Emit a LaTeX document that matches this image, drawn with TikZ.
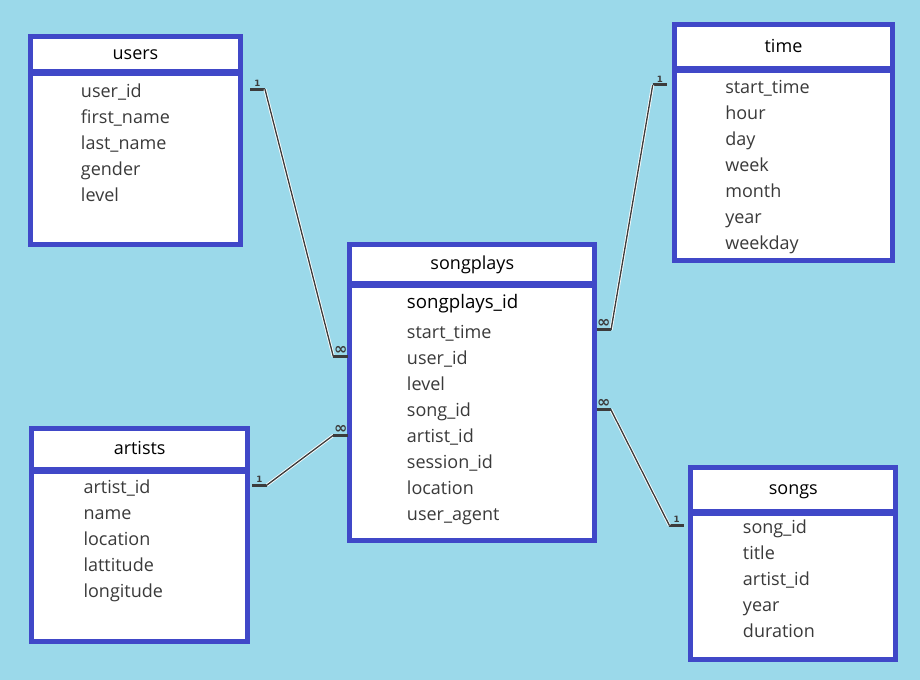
\documentclass[tikz,border=0pt]{standalone}
\usepackage{fontspec}
\setmainfont{Open Sans}
\newfontfamily\cardfont{DejaVu Sans}
\usepackage{xcolor}
\usetikzlibrary{positioning}

\definecolor{bgblue}{RGB}{155,217,234}
\definecolor{tabblue}{RGB}{64,72,200}
\definecolor{fieldgrey}{RGB}{58,58,58}
\definecolor{linegrey}{RGB}{60,60,60}

\begin{document}
\begin{tikzpicture}[x=0.75pt, y=-0.75pt, node distance=1.5pt]
        % Stijlen voor tabellen, velden en relaties
        \tikzstyle{tabhead} = [rectangle, draw=tabblue, line width=3.75pt, fill=white, outer sep=0pt, inner sep=0pt, text height=1.5ex, text depth=0pt, font=\fontsize{13.5}{16}\selectfont]
        \tikzstyle{tabbody} = [rectangle, draw=tabblue, line width=3.75pt, fill=white, outer sep=0pt, inner sep=0pt]
        \tikzstyle{field} = [anchor=base west, inner sep=0pt, text=fieldgrey, font=\fontsize{13.5}{16}\selectfont]
        \tikzstyle{bar} = [draw=linegrey, line width=2.25pt]
        \tikzstyle{rel} = [draw=linegrey, line width=1pt, preaction={draw=white, line width=2.3pt}]
        \tikzstyle{card} = [inner sep=0.8pt, text=linegrey, font=\cardfont\bfseries\fontsize{6.5}{7}\selectfont]
        \tikzstyle{many} = [inner sep=0pt, yshift=0.5pt, text=linegrey, font=\cardfont\bfseries\fontsize{12}{12}\selectfont]

        % Achtergrond
        \fill[bgblue] (0,0) rectangle (920,680);
        \useasboundingbox (0,0) rectangle (920,680);

        % Tabellen plaatsen
        \node (users) [tabhead, minimum width=210*0.75pt, minimum height=35.5*0.75pt] at (135.5,54.25) {users};
        \node (usersbody) [tabbody, below=of users, minimum width=210*0.75pt, minimum height=170.5*0.75pt] {};

        \node (time) [tabhead, minimum width=218*0.75pt, minimum height=44*0.75pt] at (783.5,47) {time};
        \node (timebody) [tabbody, below=of time, minimum width=218*0.75pt, minimum height=189.5*0.75pt] {};

        \node (songplays) [tabhead, minimum width=245*0.75pt, minimum height=39.5*0.75pt] at (472.3,264) {songplays};
        \node (songplaysbody) [tabbody, below=of songplays, minimum width=245*0.75pt, minimum height=255.1*0.75pt] {};

        \node (artists) [tabhead, minimum width=215.7*0.75pt, minimum height=40.5*0.75pt] at (139.65,448.75) {artists};
        \node (artistsbody) [tabbody, below=of artists, minimum width=215.7*0.75pt, minimum height=170.5*0.75pt] {};

        \node (songs) [tabhead, minimum width=205*0.75pt, minimum height=44.2*0.75pt] at (793.3,489.6) {songs};
        \node (songsbody) [tabbody, below=of songs, minimum width=205*0.75pt, minimum height=145.5*0.75pt] {};

        % Velden
        \foreach \f [count=\i from 0] in {user\_id, first\_name, last\_name, gender, level}
            \node (users-\i) [field] at (80.7, 97.5+26*\i) {\f};
        \foreach \f [count=\i from 0] in {start\_time, hour, day, week, month, year, weekday}
            \node (time-\i) [field] at (725, 93.2+26*\i) {\f};
        \node (songplays-id) [field, text=black, font=\fontsize{14}{16}\selectfont] at (406.7,309) {songplays\_id};
        \foreach \f [count=\i from 0] in {start\_time, user\_id, level, song\_id, artist\_id, session\_id, location, user\_agent}
            \node (songplays-\i) [field] at (406.7, 338.8+26*\i) {\f};
        \foreach \f [count=\i from 0] in {artist\_id, name, location, lattitude, longitude}
            \node (artists-\i) [field] at (83.3, 493.2+26*\i) {\f};
        \foreach \f [count=\i from 0] in {song\_id, title, artist\_id, year, duration}
            \node (songs-\i) [field] at (742.7, 533.2+26*\i) {\f};

        % Eindpunten van de relaties
        \coordinate (ua) at (250,89.3);    \coordinate (ub) at (265,89.3);
        \coordinate (spua) at (333.3,356.5); \coordinate (spub) at (348.3,356.5);
        \coordinate (aa) at (252,485);     \coordinate (ab) at (267,485);
        \coordinate (spaa) at (333.3,435.3); \coordinate (spab) at (348.3,435.3);
        \coordinate (ta) at (652.7,85);    \coordinate (tb) at (667.3,85);
        \coordinate (spta) at (596.5,330); \coordinate (sptb) at (611,330);
        \coordinate (sa) at (669.3,525.3); \coordinate (sb) at (684,525.3);
        \coordinate (spsa) at (596.7,409.3); \coordinate (spsb) at (610.7,409.3);

        % Relaties tekenen
        \draw [bar] (ua) -- node[card, above] (ucard) {1} (ub);
        \draw [rel] (ub) -- (spua);
        \draw [bar] (spua) -- node[many, above] (spucard) {∞} (spub);

        \draw [bar] (aa) -- node[card, above] (acard) {1} (ab);
        \draw [rel] (ab) -- (spaa);
        \draw [bar] (spaa) -- node[many, above] (spacard) {∞} (spab);

        \draw [bar] (ta) -- node[card, above] (tcard) {1} (tb);
        \draw [rel] (ta) -- (sptb);
        \draw [bar] (spta) -- node[many, above] (sptcard) {∞} (sptb);

        \draw [bar] (sa) -- node[card, above] (scard) {1} (sb);
        \draw [rel] (spsb) -- (sa);
        \draw [bar] (spsa) -- node[many, above] (spscard) {∞} (spsb);

\end{tikzpicture}
\end{document}
